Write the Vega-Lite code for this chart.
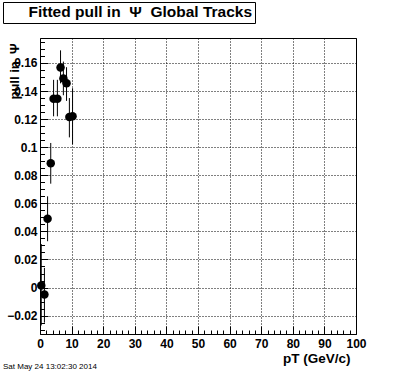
{
  "$schema": "https://vega.github.io/schema/vega-lite/v6.json",
  "autosize": "none",
  "width": 316,
  "height": 296,
  "padding": {"left": 40, "top": 38, "right": 40, "bottom": 38},
  "background": "white",
  "config": {"view": {"stroke": "black", "strokeWidth": 1}, "font": "Liberation Sans"},
  "title": {"text": "Sat May 24 13:02:30 2014", "orient": "bottom", "anchor": "start", "frame": "group", "dx": -37, "dy": -2, "offset": 0, "fontSize": 8, "fontWeight": "normal", "font": "Liberation Sans", "color": "black"},
  "data": {"values": [
    {"pt": 0.4, "val": 0.0015, "lo": -0.027, "hi": 0.031},
    {"pt": 1.4, "val": -0.005, "lo": -0.025, "hi": 0.014},
    {"pt": 2.4, "val": 0.049, "lo": 0.033, "hi": 0.065},
    {"pt": 3.4, "val": 0.0885, "lo": 0.074, "hi": 0.103},
    {"pt": 4.3, "val": 0.1345, "lo": 0.122, "hi": 0.148},
    {"pt": 5.5, "val": 0.1345, "lo": 0.122, "hi": 0.148},
    {"pt": 6.5, "val": 0.1567, "lo": 0.1455, "hi": 0.169},
    {"pt": 7.4, "val": 0.149, "lo": 0.137, "hi": 0.161},
    {"pt": 8.4, "val": 0.1455, "lo": 0.133, "hi": 0.157},
    {"pt": 9.3, "val": 0.1215, "lo": 0.107, "hi": 0.135},
    {"pt": 10.3, "val": 0.122, "lo": 0.102, "hi": 0.142}
  ]},
  "layer": [
    {
      "mark": {"type": "rule", "color": "black", "strokeWidth": 1},
      "encoding": {
        "x": {"field": "pt", "type": "quantitative",
          "scale": {"domain": [0, 100], "nice": false, "zero": false},
          "axis": {"orient": "bottom", "values": [0,2,4,6,8,10,12,14,16,18,20,22,24,26,28,30,32,34,36,38,40,42,44,46,48,50,52,54,56,58,60,62,64,66,68,70,72,74,76,78,80,82,84,86,88,90,92,94,96,98,100],
            "labels": false, "grid": false, "domain": false, "tickSize": -4, "tickColor": "black", "tickWidth": 1, "title": null}},
        "y": {"field": "lo", "type": "quantitative",
          "scale": {"domain": [-0.0331, 0.1778], "nice": false, "zero": false},
          "axis": {"orient": "left", "values": [-0.03,-0.025,-0.02,-0.015,-0.01,-0.005,0,0.005,0.01,0.015,0.02,0.025,0.03,0.035,0.04,0.045,0.05,0.055,0.06,0.065,0.07,0.075,0.08,0.085,0.09,0.095,0.1,0.105,0.11,0.115,0.12,0.125,0.13,0.135,0.14,0.145,0.15,0.155,0.16,0.165,0.17,0.175],
            "labels": false, "grid": false, "domain": false, "tickSize": -4.5, "tickColor": "black", "tickWidth": 1, "title": null}},
        "y2": {"field": "hi"}
      }
    },
    {
      "mark": {"type": "point", "filled": true, "shape": "circle", "size": 72, "opacity": 1},
      "encoding": {
        "x": {"field": "pt", "type": "quantitative",
          "axis": {"orient": "bottom", "values": [0,10,20,30,40,50,60,70,80,90,100], "format": "d",
            "grid": true, "gridColor": "black", "gridDash": [1, 2], "gridWidth": 1, "gridOpacity": 1,
            "domain": false, "tickSize": -8, "tickColor": "black", "tickWidth": 1,
            "labelFont": "Liberation Sans", "labelFontWeight": "bold", "labelFontSize": 12, "labelColor": "black", "labelPadding": 12, "labelFlush": false,
            "title": "pT (GeV/c)", "titleFont": "Liberation Sans", "titleFontWeight": "bold", "titleFontSize": 13.5, "titleColor": "black",
            "titleAlign": "right", "titleBaseline": "middle", "titleX": 310, "titleY": 24}},
        "y": {"field": "val", "type": "quantitative",
          "axis": {"orient": "left", "values": [-0.02,0,0.02,0.04,0.06,0.08,0.1,0.12,0.14,0.16], "format": ".2~f",
            "grid": true, "gridColor": "black", "gridDash": [1, 2], "gridWidth": 1, "gridOpacity": 1,
            "domain": false, "tickSize": -8, "tickColor": "black", "tickWidth": 1,
            "labelFont": "Liberation Sans", "labelFontWeight": "bold", "labelFontSize": 12, "labelColor": "black", "labelPadding": 11, "labelFlush": false,
            "title": "pull in\u00a0\u00a0Ψ", "titleFont": "Liberation Sans", "titleFontWeight": "bold", "titleFontSize": 13, "titleColor": "black",
            "titleAngle": -90, "titleAlign": "right", "titleBaseline": "middle", "titleX": -26, "titleY": 5}},
        "color": {"datum": "Fitted pull in\u00a0\u00a0Ψ\u00a0\u00a0Global Tracks\u00a0", "type": "nominal",
          "scale": {"range": ["black"]},
          "legend": {"title": null, "orient": "none", "legendX": -37, "legendY": -36,
            "symbolSize": 0, "symbolOpacity": 0, "symbolStrokeWidth": 0,
            "labelFont": "Liberation Sans", "labelFontSize": 15.5, "labelFontWeight": "bold", "labelColor": "black", "labelLimit": 0, "labelOffset": 8,
            "strokeColor": "black", "fillColor": "white", "padding": 2}}
      }
    }
  ],
  "resolve": {"axis": {"x": "independent", "y": "independent"}}
}
